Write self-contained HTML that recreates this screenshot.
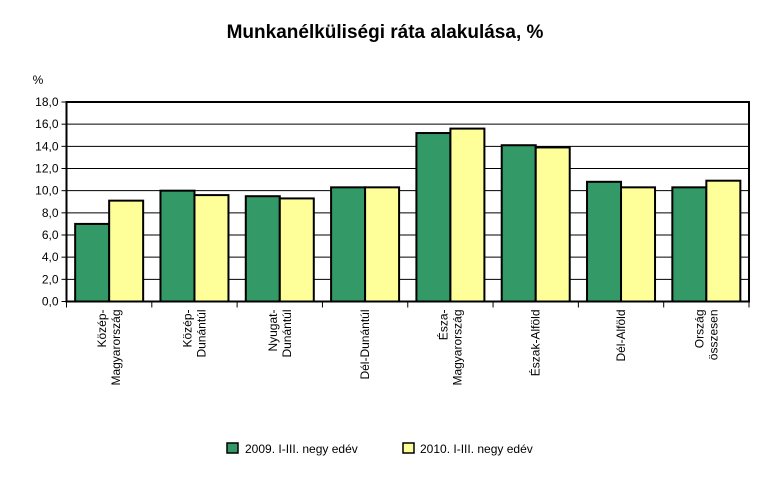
<!DOCTYPE html>
<html><head><meta charset="utf-8"><style>
body{margin:0;background:#fff;font-family:"Liberation Sans",sans-serif}
svg text{font-family:"Liberation Sans",sans-serif}
</style></head><body>
<svg id="c" width="776" height="472" viewBox="0 0 776 472">
<text x="385" y="38" text-anchor="middle" font-size="19" font-weight="bold">Munkanélküliségi ráta alakulása, %</text>
<text x="38" y="84" text-anchor="middle" font-size="12">%</text>
<g id="grid"></g><g id="bars"></g><g id="axes"></g>
<g>
<rect x="227" y="443" width="11" height="10" fill="#339966" stroke="#000" stroke-width="1.5"/>
<text x="245" y="453" font-size="12">2009.  I-III.  negy edév</text>
<rect x="403" y="443" width="11" height="10" fill="#ffff99" stroke="#000" stroke-width="1.5"/>
<text x="420" y="453" font-size="12">2010.  I-III.  negy edév</text>
</g>
</svg>
<script>
const categories=[["Közép-","Magyarország"],["Közép-","Dunántúl"],["Nyugat-","Dunántúl"],["Dél-Dunántúl"],["Észa-","Magyarország"],["Észak-Alföld"],["Dél-Alföld"],["Ország","összesen"]];
const values2009=[7.0,10.0,9.5,10.3,15.2,14.1,10.8,10.3];
const values2010=[9.1,9.6,9.3,10.3,15.6,13.9,10.3,10.9];
const yTicks=[0,2,4,6,8,10,12,14,16,18];
const NS="http://www.w3.org/2000/svg";
const L=66.5,R=749,T=102,B=301.5,yMax=18;
const y=v=>B-(v/yMax)*(B-T);
const cw=(R-L)/categories.length;
const x=i=>L+i*cw;
function mk(t,a,p){const e=document.createElementNS(NS,t);for(const k in a)e.setAttribute(k,a[k]);p.appendChild(e);return e;}
const grid=document.getElementById('grid'),bars=document.getElementById('bars'),axes=document.getElementById('axes');
yTicks.forEach(v=>{
 const g=mk('line',{x1:L,x2:R,y1:y(v),y2:y(v),stroke:'#000','stroke-width':1},grid);
 
 
 const tk=mk('line',{x1:L-5,x2:L,y1:y(v),y2:y(v),stroke:'#000','stroke-width':1},axes);
 
 
 const t=mk('text',{x:L-8,y:y(v)+4,'text-anchor':'end','font-size':12},axes);
 t.textContent=v.toFixed(1).replace('.',',');
 
 
});
const bw=34;
categories.forEach((c,i)=>{
 const cx=x(i)+cw/2;
 const b1=mk('rect',{x:cx-bw,y:y(values2009[i]),width:bw,height:B-y(values2009[i]),fill:'#339966',stroke:'#000','stroke-width':2},bars);
 
 
 const b2=mk('rect',{x:cx,y:y(values2010[i]),width:bw,height:B-y(values2010[i]),fill:'#ffff99',stroke:'#000','stroke-width':2},bars);
 
 
 const tk=mk('line',{x1:x(i),x2:x(i),y1:B,y2:B+6,stroke:'#000','stroke-width':1},axes);
 
 
 const t=mk('text',{'font-size':12,'text-anchor':'end',transform:`translate(${cx},${B+8}) rotate(-90)`},axes);
 
 
 const n=c.length;
 c.forEach((ln,j)=>{const s=mk('tspan',{x:0,y:(j-(n-1)/2)*14+4},t);s.textContent=ln;});
});
const lt=mk('line',{x1:R,x2:R,y1:B,y2:B+6,stroke:'#000'},axes);


const frame=mk('rect',{x:L,y:T,width:R-L,height:B-T,fill:'none',stroke:'#000','stroke-width':2},axes);


</script>
</body></html>
